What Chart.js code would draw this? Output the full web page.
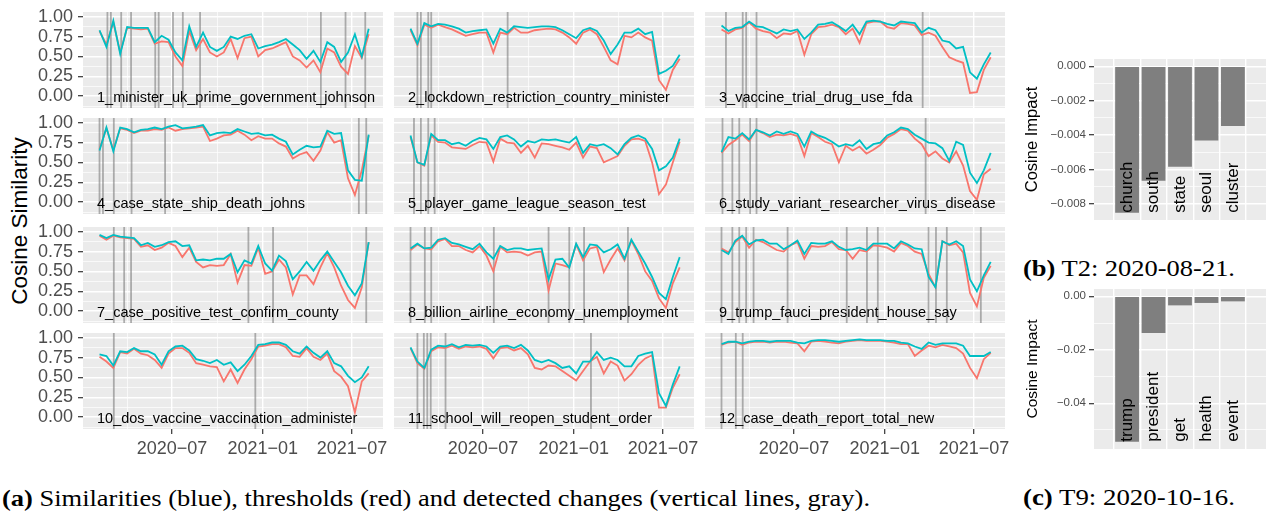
<!DOCTYPE html>
<html>
<head>
<meta charset="utf-8">
<script src="https://cdn.jsdelivr.net/npm/chart.js@4.4.1/dist/chart.umd.min.js"></script>
<style>
    body { margin: 0; width: 1266px; height: 513px; background: #fff; position: relative; overflow: hidden; }
    canvas { position: absolute; }
    .ytitle { position: absolute; font: 22.5px "Liberation Sans", Arial, sans-serif; color: #000; white-space: nowrap;
              transform: translate(-50%, -50%) rotate(-90deg); }
    .cap { position: absolute; font-family: "Liberation Serif", "DejaVu Serif", serif; font-size: 24px; line-height: 1.15;
           white-space: nowrap; color: #000; transform-origin: 0 0; }
</style>
</head>
<body>
<div class="ytitle" style="left:20px; top:221px;">Cosine Similarity</div>
<div class="cap" id="capA" data-left="2" data-base="507" data-width="868"><b>(a)</b> Similarities (blue), thresholds (red) and detected changes (vertical lines, gray).</div>
<div class="cap" id="capB" data-left="1023" data-base="277" data-width="212"><b>(b)</b> T2: 2020-08-21.</div>
<div class="cap" id="capC" data-left="1023" data-base="506" data-width="212"><b>(c)</b> T9: 2020-10-16.</div>

<script>
// weekly samples, as days since 2020-01-01 (every second week)
const days = [35, 49, 63, 77, 91, 105, 119, 133, 147, 161, 175, 189, 203, 217, 231, 245, 259, 273, 287, 301,
              315, 329, 343, 357, 371, 385, 399, 413, 427, 441, 455, 469, 483, 497, 511, 525, 539, 553, 567, 581];
const majorDays = [182, 366, 547];
const majorLabels = ['2020\u221207', '2021\u221201', '2021\u221207'];
const minorDays = [91, 274, 456];
const yMajor = [0, 0.25, 0.5, 0.75, 1];
const yMinor = [-0.125, 0.125, 0.375, 0.625, 0.875];

const topics = [
    '1_minister_uk_prime_government_johnson', '2_lockdown_restriction_country_minister', '3_vaccine_trial_drug_use_fda',
    '4_case_state_ship_death_johns', '5_player_game_league_season_test', '6_study_variant_researcher_virus_disease',
    '7_case_positive_test_confirm_county', '8_billion_airline_economy_unemployment', '9_trump_fauci_president_house_say',
    '10_dos_vaccine_vaccination_administer', '11_school_will_reopen_student_order', '12_case_death_report_total_new'
];

const sim1 = [.83,.62,.95,.53,.87,.86,.86,.86,.68,.76,.71,.55,.45,.88,.62,.80,.62,.57,.62,.75,.72,.76,.78,.60,.63,.65,.68,.72,.65,.58,.47,.57,.43,.68,.62,.43,.55,.78,.50,.85];
const thr1 = [.82,.65,.93,.55,.86,.85,.84,.85,.66,.69,.68,.50,.38,.82,.58,.72,.55,.50,.55,.72,.48,.73,.75,.50,.58,.60,.64,.68,.50,.45,.36,.45,.30,.60,.55,.37,.28,.63,.48,.78];
const chg1 = [51, 58, 79, 99, 148, 155, 184, 204, 239, 484, 534, 574];

const sim2 = [.85,.66,.92,.88,.91,.90,.88,.85,.80,.82,.83,.84,.66,.85,.80,.88,.87,.86,.87,.88,.88,.87,.83,.78,.73,.83,.86,.82,.70,.53,.65,.80,.80,.85,.78,.81,.28,.32,.38,.52];
const thr2 = [.83,.64,.90,.86,.90,.87,.84,.80,.76,.78,.80,.80,.55,.80,.78,.86,.80,.80,.83,.84,.85,.84,.80,.74,.66,.80,.84,.78,.62,.45,.40,.76,.74,.80,.74,.70,.20,.08,.33,.47];
const chg2 = [49, 56, 71, 77, 232];

const sim3 = [.89,.82,.86,.87,.94,.88,.87,.83,.79,.84,.82,.84,.72,.80,.90,.91,.93,.88,.82,.90,.78,.94,.95,.94,.91,.89,.94,.93,.92,.80,.86,.83,.70,.68,.60,.62,.30,.22,.40,.55];
const thr3 = [.84,.79,.84,.86,.93,.85,.82,.80,.73,.79,.78,.82,.52,.78,.87,.88,.90,.87,.78,.85,.67,.92,.94,.94,.87,.85,.92,.91,.89,.77,.80,.76,.62,.49,.45,.42,.04,.05,.33,.49];
const chg3 = [44, 78, 85, 106, 443];

const sim4 = [.65,.94,.64,.94,.92,.88,.91,.92,.94,.92,.95,.97,.93,.94,.95,.97,.84,.87,.88,.87,.92,.89,.86,.87,.84,.85,.80,.76,.60,.66,.71,.69,.70,.90,.86,.87,.40,.28,.27,.85];
const thr4 = [.67,.93,.66,.93,.91,.87,.90,.90,.92,.91,.94,.90,.92,.93,.94,.95,.77,.80,.84,.85,.90,.85,.78,.83,.80,.80,.74,.70,.55,.60,.63,.52,.65,.88,.75,.78,.30,.09,.40,.84];
const chg4 = [35, 42, 64, 100, 168, 561, 576];

const sim5 = [.84,.50,.47,.86,.78,.78,.73,.75,.71,.77,.81,.79,.67,.82,.84,.79,.70,.77,.75,.79,.78,.79,.77,.75,.82,.62,.73,.71,.73,.68,.60,.73,.81,.84,.80,.67,.40,.45,.56,.80];
const thr5 = [.82,.50,.46,.84,.76,.75,.69,.68,.67,.72,.76,.75,.51,.80,.75,.74,.62,.71,.56,.74,.73,.71,.69,.66,.75,.56,.70,.68,.50,.54,.58,.71,.79,.80,.77,.50,.10,.22,.50,.76];
const chg5 = [42, 56, 71, 84];

const sim6 = [.63,.82,.80,.87,.79,.91,.88,.84,.89,.86,.89,.86,.70,.89,.84,.81,.76,.70,.73,.71,.78,.67,.73,.75,.84,.88,.94,.92,.85,.80,.75,.74,.68,.52,.76,.72,.37,.24,.40,.62];
const thr6 = [.62,.72,.78,.85,.77,.91,.87,.82,.85,.84,.86,.83,.58,.87,.82,.76,.73,.50,.71,.65,.70,.61,.66,.72,.81,.86,.92,.90,.80,.73,.58,.64,.55,.50,.64,.46,.14,.03,.35,.42];
const chg6 = [37, 57, 71, 93, 106, 449];

const sim7 = [.96,.92,.96,.94,.93,.92,.83,.86,.81,.83,.87,.88,.82,.83,.64,.65,.64,.66,.66,.72,.49,.64,.60,.82,.60,.51,.70,.63,.40,.50,.62,.51,.64,.75,.62,.49,.32,.20,.35,.87];
const thr7 = [.95,.90,.95,.93,.92,.91,.81,.83,.77,.80,.86,.82,.68,.80,.62,.55,.58,.57,.58,.72,.36,.58,.57,.80,.47,.50,.65,.55,.21,.45,.45,.34,.55,.73,.55,.32,.14,.04,.30,.87];
const chg7 = [64, 85, 99, 337, 387, 576];

const sim8 = [.79,.85,.79,.80,.90,.92,.86,.84,.81,.78,.85,.74,.66,.82,.77,.79,.79,.77,.78,.79,.40,.65,.66,.55,.85,.68,.84,.83,.74,.78,.84,.66,.90,.75,.60,.43,.23,.15,.43,.68];
const thr8 = [.77,.84,.79,.78,.88,.91,.82,.82,.77,.74,.82,.70,.50,.81,.74,.75,.74,.70,.74,.75,.26,.60,.58,.55,.84,.64,.79,.81,.49,.65,.79,.64,.89,.72,.50,.38,.16,.04,.35,.55];
const chg8 = [35, 64, 77, 204, 315, 357, 387, 476];

const sim9 = [.77,.72,.89,.95,.84,.89,.90,.85,.85,.78,.83,.89,.72,.86,.85,.85,.88,.81,.77,.78,.80,.77,.85,.85,.85,.79,.88,.84,.79,.78,.43,.30,.88,.84,.88,.82,.40,.25,.45,.62];
const thr9 = [.79,.74,.87,.94,.80,.90,.87,.82,.77,.75,.83,.87,.66,.82,.81,.82,.87,.78,.77,.66,.77,.75,.83,.82,.80,.75,.86,.82,.75,.72,.47,.30,.88,.83,.85,.74,.23,.06,.42,.57];
const chg9 = [35, 57, 71, 85, 100, 169, 289, 330, 352, 455, 470, 492, 561];

const sim10 = [.79,.77,.65,.83,.82,.87,.83,.83,.79,.66,.83,.89,.90,.84,.73,.71,.68,.72,.66,.69,.58,.66,.77,.91,.92,.94,.94,.91,.83,.80,.89,.81,.75,.83,.68,.64,.52,.44,.50,.64];
const thr10 = [.76,.70,.62,.82,.80,.86,.80,.78,.72,.62,.80,.87,.87,.81,.68,.66,.64,.63,.45,.60,.43,.60,.73,.89,.90,.92,.92,.88,.77,.76,.87,.76,.72,.80,.58,.51,.39,.06,.45,.55];
const chg10 = [64, 351];

const sim11 = [.88,.70,.62,.85,.90,.89,.92,.88,.91,.90,.91,.89,.81,.89,.90,.87,.91,.84,.72,.69,.72,.68,.62,.64,.55,.70,.70,.82,.72,.75,.72,.64,.64,.77,.80,.82,.30,.14,.41,.64];
const thr11 = [.87,.68,.61,.83,.88,.87,.90,.86,.89,.88,.89,.86,.74,.87,.88,.84,.87,.79,.62,.60,.65,.64,.58,.52,.46,.58,.70,.76,.55,.70,.65,.46,.54,.66,.74,.78,.12,.12,.37,.54];
const chg11 = [49, 62, 69, 76, 106, 401];

const sim12 = [.92,.95,.95,.93,.95,.96,.96,.95,.96,.96,.96,.94,.93,.96,.97,.97,.96,.95,.96,.97,.98,.97,.97,.97,.96,.96,.94,.93,.89,.86,.94,.91,.93,.93,.93,.90,.77,.77,.77,.82];
const thr12 = [.91,.94,.95,.91,.94,.95,.95,.94,.95,.95,.94,.93,.83,.95,.96,.95,.94,.93,.95,.96,.97,.96,.96,.96,.95,.94,.92,.92,.77,.84,.90,.88,.91,.89,.87,.80,.62,.49,.73,.81];
const chg12 = [35, 64, 78];

const wordsB = ['church', 'south', 'state', 'seoul', 'cluster'];
const impactB = [-0.0085, -0.00664, -0.00583, -0.00431, -0.00346];
const ticksB = [0, -0.002, -0.004, -0.006, -0.008];
const minorB = [-0.001, -0.003, -0.005, -0.007];

const wordsC = ['trump', 'president', 'get', 'health', 'event'];
const impactC = [-0.0544, -0.0137, -0.0034, -0.0025, -0.0019];
const ticksC = [0, -0.02, -0.04];
const minorC = [-0.01, -0.03, -0.05];

const sims = [sim1, sim2, sim3, sim4, sim5, sim6, sim7, sim8, sim9, sim10, sim11, sim12];
const thrs = [thr1, thr2, thr3, thr4, thr5, thr6, thr7, thr8, thr9, thr10, thr11, thr12];
const chgs = [chg1, chg2, chg3, chg4, chg5, chg6, chg7, chg8, chg9, chg10, chg11, chg12];

Chart.defaults.font.family = '"Liberation Sans", Arial, sans-serif';
Chart.defaults.animation = false;

const BG = '#EBEBEB';
const TICK_TEXT = '#4D4D4D';
const TICK_MARK = '#333333';
const colLeft = [83, 394, 705];
const rowTop = [12, 118, 227, 333];
// PAD is larger than the half label height + tick padding, so Chart.js keeps the plot area where we put it
const PANEL_W = 300, PANEL_H = 96, PAD = 18, PAD_RIGHT = 14;

const near = (a, list) => list.some(v => Math.abs(v - a) < 1e-6);

const panelBg = {
    id: 'panelBg',
    beforeDraw(chart) {
        const { ctx, chartArea: a } = chart;
        ctx.save();
        ctx.fillStyle = BG;
        ctx.fillRect(a.left, a.top, a.right - a.left, a.bottom - a.top);
        ctx.restore();
    }
};

// gray vertical lines at the detected change dates
const changeLines = {
    id: 'changeLines',
    beforeDatasetsDraw(chart, args, opts) {
        if (!opts.days) return;
        const { ctx, chartArea: a, scales: { x } } = chart;
        ctx.save();
        ctx.strokeStyle = 'rgba(125,125,125,0.6)';
        ctx.lineWidth = 1.8;
        opts.days.forEach(d => {
            const px = x.getPixelForValue(d);
            ctx.beginPath();
            ctx.moveTo(px, a.top);
            ctx.lineTo(px, a.bottom);
            ctx.stroke();
        });
        ctx.restore();
    }
};

const topicLabel = {
    id: 'topicLabel',
    afterDatasetsDraw(chart, args, opts) {
        if (!opts.text) return;
        const { ctx, chartArea: a, scales: { y } } = chart;
        ctx.save();
        ctx.fillStyle = '#000';
        ctx.font = '14.5px "Liberation Sans", Arial, sans-serif';
        ctx.textBaseline = 'middle';
        ctx.textAlign = 'left';
        ctx.fillText(opts.text, a.left + 14, y.getPixelForValue(-0.03));
        ctx.restore();
    }
};

function makeCanvas(left, top, width, height) {
    const c = document.createElement('canvas');
    c.width = width;
    c.height = height;
    c.style.left = left + 'px';
    c.style.top = top + 'px';
    document.body.appendChild(c);
    return c;
}

function makePanel(i) {
    const col = i % 3, row = Math.floor(i / 3);
    const axisW = col === 0 ? 83 : 0;
    const bottomH = row === 3 ? 32 : 0;
    const padBottom = row === 3 ? 0 : PAD;
    const canvas = makeCanvas(colLeft[col] - axisW, rowTop[row] - PAD,
        axisW + PANEL_W + PAD_RIGHT, PAD + PANEL_H + bottomH + padBottom);

    const xGrid = [...minorDays, ...majorDays].sort((a, b) => a - b);
    const yGrid = [...yMinor, ...yMajor].sort((a, b) => a - b);

    return new Chart(canvas, {
        type: 'line',
        data: {
            datasets: [
                { label: 'similarity', data: days.map((d, k) => ({ x: d, y: sims[i][k] })),
                  borderColor: '#00BFC4', borderWidth: 1.8, pointRadius: 0, tension: 0, order: 0 },
                { label: 'threshold', data: days.map((d, k) => ({ x: d, y: thrs[i][k] })),
                  borderColor: '#F8766D', borderWidth: 1.8, pointRadius: 0, tension: 0, order: 1 }
            ]
        },
        options: {
            responsive: false,
            devicePixelRatio: 1,
            layout: { padding: { top: PAD, right: PAD_RIGHT, left: 0, bottom: padBottom } },
            plugins: {
                legend: { display: false },
                tooltip: { enabled: false },
                changeLines: { days: chgs[i] },
                topicLabel: { text: topics[i] }
            },
            scales: {
                x: {
                    type: 'linear', min: 1.5, max: 610,
                    afterBuildTicks: s => { s.ticks = xGrid.map(v => ({ value: v })); },
                    afterFit: s => { s.height = bottomH; },
                    border: { display: false },
                    grid: {
                        color: '#ffffff',
                        lineWidth: ctx => near(ctx.tick.value, majorDays) ? 1.4 : 0.7,
                        drawTicks: row === 3, tickLength: 5, tickWidth: 1.2,
                        tickColor: ctx => near(ctx.tick.value, majorDays) ? TICK_MARK : 'rgba(0,0,0,0)'
                    },
                    ticks: {
                        display: row === 3, autoSkip: false, maxRotation: 0, padding: 4,
                        color: TICK_TEXT, font: { size: 18 },
                        callback: v => {
                            const j = majorDays.findIndex(d => Math.abs(d - v) < 1e-6);
                            return j >= 0 ? majorLabels[j] : '';
                        }
                    }
                },
                y: {
                    min: -0.15, max: 1.06,
                    afterBuildTicks: s => { s.ticks = yGrid.map(v => ({ value: v })); },
                    afterFit: s => { s.width = axisW; },
                    border: { display: false },
                    grid: {
                        color: '#ffffff',
                        lineWidth: ctx => near(ctx.tick.value, yMajor) ? 1.4 : 0.7,
                        drawTicks: col === 0, tickLength: 5, tickWidth: 1.2,
                        tickColor: ctx => near(ctx.tick.value, yMajor) ? TICK_MARK : 'rgba(0,0,0,0)'
                    },
                    ticks: {
                        display: col === 0, autoSkip: false, padding: 5, color: TICK_TEXT, font: { size: 18 },
                        callback: v => near(v, yMajor) ? v.toFixed(2) : ''
                    }
                }
            }
        },
        plugins: [panelBg, changeLines, topicLabel]
    });
}

// words written upright inside / under each bar, starting at the lowest bar value
const barWords = {
    id: 'barWords',
    afterDatasetsDraw(chart, args, opts) {
        const { ctx, scales: { x, y } } = chart;
        const base = y.getPixelForValue(Math.min(...opts.values));
        ctx.save();
        ctx.fillStyle = '#000';
        ctx.font = '17px "Liberation Sans", Arial, sans-serif';
        ctx.textBaseline = 'middle';
        ctx.textAlign = 'left';
        opts.words.forEach((w, i) => {
            ctx.save();
            ctx.translate(x.getPixelForValue(i + 1), base);
            ctx.rotate(-Math.PI / 2);
            ctx.fillText(w, 0, 0);
            ctx.restore();
        });
        ctx.restore();
    }
};

function makeBars(top, plotH, words, values, majors, minors, yMin, yMax, digits, titleSize) {
    const axisW = 84, pad = 14;
    const canvas = makeCanvas(1010, top - pad, axisW + 172, pad + plotH + pad);
    const yGrid = [...minors, ...majors].sort((a, b) => a - b);
    return new Chart(canvas, {
        type: 'bar',
        data: {
            datasets: [{
                data: words.map((w, i) => ({ x: i + 1, y: values[i] })),
                backgroundColor: '#7F7F7F', borderWidth: 0,
                barPercentage: 0.9, categoryPercentage: 1
            }]
        },
        options: {
            responsive: false,
            devicePixelRatio: 1,
            layout: { padding: { top: pad, right: 0, left: 0, bottom: pad } },
            plugins: {
                legend: { display: false },
                tooltip: { enabled: false },
                barWords: { words, values }
            },
            scales: {
                x: {
                    type: 'linear', min: 0.4, max: 5.6,
                    afterBuildTicks: s => { s.ticks = words.map((w, i) => ({ value: i + 1 })); },
                    afterFit: s => { s.height = 0; },
                    border: { display: false },
                    grid: { color: '#ffffff', lineWidth: 1.4, drawTicks: false },
                    ticks: { display: false }
                },
                y: {
                    min: yMin, max: yMax,
                    afterBuildTicks: s => { s.ticks = yGrid.map(v => ({ value: v })); },
                    afterFit: s => { s.width = axisW; },
                    border: { display: false },
                    grid: {
                        color: '#ffffff',
                        lineWidth: ctx => near(ctx.tick.value, majors) ? 1.4 : 0.7,
                        drawTicks: true, tickLength: 5, tickWidth: 1.2,
                        tickColor: ctx => near(ctx.tick.value, majors) ? TICK_MARK : 'rgba(0,0,0,0)'
                    },
                    ticks: {
                        autoSkip: false, padding: 3, color: TICK_TEXT, font: { size: 11.5 },
                        callback: v => near(v, majors) ? v.toFixed(digits).replace('-', '\u2212') : ''
                    },
                    title: {
                        display: true, text: 'Cosine Impact', color: '#000',
                        font: { size: titleSize }, padding: { top: 13, bottom: 0 }
                    }
                }
            }
        },
        plugins: [panelBg, barWords]
    });
}

topics.forEach((t, i) => makePanel(i));
makeBars(59, 161, wordsB, impactB, ticksB, minorB, -0.008925, 0.000425, 3, 16.5);
makeBars(289, 160, wordsC, impactC, ticksC, minorC, -0.05712, 0.00272, 2, 15.5);

// captions: put baseline at the wanted y and stretch to the measured width
document.querySelectorAll('.cap').forEach(el => {
    const fs = 24;
    el.style.left = el.dataset.left + 'px';
    el.style.top = (parseFloat(el.dataset.base) - 0.912 * fs) + 'px';
    const w = el.getBoundingClientRect().width;
    el.style.transform = `scaleX(${parseFloat(el.dataset.width) / w})`;
});
</script>
</body>
</html>
